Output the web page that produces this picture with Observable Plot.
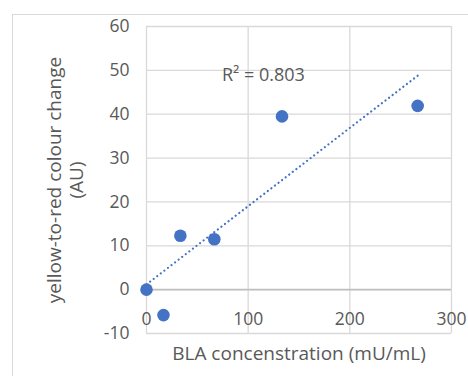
<!DOCTYPE html>
<html>
<head>
<meta charset="utf-8">
<script src="https://cdn.jsdelivr.net/npm/d3@7"></script>
<script src="https://cdn.jsdelivr.net/npm/@observablehq/plot@0.6"></script>
<style>
  html, body { margin: 0; padding: 0; background: #fff; }
  #wrap { position: relative; width: 468px; height: 376px; overflow: hidden; }
  #border { position: absolute; left: 12px; top: 14px; width: 600px; height: 600px; border: 1.5px solid #d9d9d9; box-sizing: border-box; }
  #chart { position: absolute; left: 0; top: 0; }
</style>
</head>
<body>
<div id="wrap"><div id="border"></div><div id="chart"></div></div>
<script>
const concentration = [0, 16.7, 33.3, 66.7, 133.3, 266.7];
const colourChange = [0, -5.8, 12.3, 11.5, 39.5, 41.9];
const xTicks = [0, 100, 200, 300];
const yTicks = [-10, 0, 10, 20, 30, 40, 50, 60];
const xLabel = "BLA concenstration (mU/mL)";
const yLabel = "yellow-to-red colour change\n(AU)";
const r2Label = "R² = 0.803";
const r2Pos = {x: 115, y: 49};

const data = concentration.map((x, i) => ({x, y: colourChange[i]}));
const grey = "#595959";
const blue = "#4472C4";
const font = "Open Sans";

const chart = Plot.plot({
  width: 468,
  height: 376,
  marginLeft: 146,
  marginRight: 17,
  marginTop: 26,
  marginBottom: 43,
  style: {fontFamily: font, background: "transparent", overflow: "visible"},
  x: {domain: [0, 300], ticks: xTicks},
  y: {domain: [-10, 60], ticks: yTicks},
  marks: [
    Plot.gridX(xTicks, {stroke: "#d9d9d9", strokeOpacity: 1, strokeWidth: 1.3}),
    Plot.gridY(yTicks, {stroke: "#d9d9d9", strokeOpacity: 1, strokeWidth: 1.3}),
    Plot.ruleY([0], {stroke: "#bfbfbf", strokeWidth: 1.6}),
    Plot.axisY(yTicks, {tickSize: 0, tickPadding: 17, fontSize: 17.5, fill: grey, label: null, tickFormat: d => String(d)}),
    Plot.axisX(xTicks, {tickSize: 0, anchor: "bottom", dy: -30, fontSize: 17.5, fill: grey, label: null, tickFormat: d => String(d)}),
    Plot.text([xLabel], {frameAnchor: "bottom", dy: 20, fontSize: 19, fill: grey, lineAnchor: "middle"}),
    Plot.text([yLabel], {frameAnchor: "left", dx: -82, rotate: -90, textAnchor: "middle", fontSize: 19, fill: grey, lineAnchor: "middle", lineHeight: 1.17}),
    Plot.linearRegressionY(data, {x: "x", y: "y", ci: 0, stroke: blue, strokeWidth: 2.2, strokeDasharray: "0.1,4.4", strokeLinecap: "round"}),
    Plot.dot(data, {x: "x", y: "y", r: 6.3, fill: blue, stroke: "none"}),
    Plot.text([r2Label], {x: () => r2Pos.x, y: () => r2Pos.y, fontSize: 18, fill: grey})
  ]
});
document.getElementById("chart").appendChild(chart);
</script>
</body>
</html>
